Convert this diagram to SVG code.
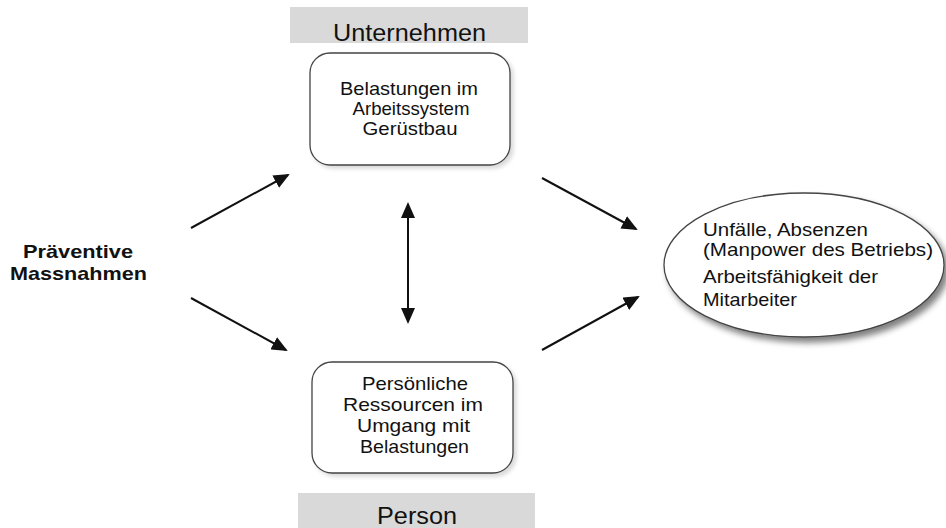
<svg xmlns="http://www.w3.org/2000/svg" width="946" height="528" viewBox="0 0 946 528">
<style>
text{font-family:"Liberation Sans",Arial,sans-serif;fill:#111}
.box{fill:#fff;stroke:#444;stroke-width:1.3}
.banner{fill:#d9d9d9}
.t{font-size:19px;text-anchor:middle}
.tl{font-size:19px}
.hdr{font-size:23px;text-anchor:middle}
.bold{font-size:19px;font-weight:bold;text-anchor:middle}
.arr{stroke:#111;stroke-width:2;fill:none}
</style>
<defs>
<marker id="ah" markerUnits="userSpaceOnUse" markerWidth="16" markerHeight="14" refX="14" refY="7" orient="auto-start-reverse">
<path d="M0,0 L16,7 L0,14 Z" fill="#111"/>
</marker>
<filter id="sh" x="-10%" y="-10%" width="130%" height="140%">
<feGaussianBlur in="SourceAlpha" stdDeviation="3"/>
<feOffset dx="4" dy="5"/>
<feComponentTransfer><feFuncA type="linear" slope="0.5"/></feComponentTransfer>
<feMerge><feMergeNode/><feMergeNode in="SourceGraphic"/></feMerge>
</filter>
<filter id="sh2" x="-10%" y="-10%" width="130%" height="140%">
<feGaussianBlur in="SourceAlpha" stdDeviation="2"/>
<feOffset dx="3" dy="3"/>
<feComponentTransfer><feFuncA type="linear" slope="0.15"/></feComponentTransfer>
<feMerge><feMergeNode/><feMergeNode in="SourceGraphic"/></feMerge>
</filter>
</defs>

<g id="banner-unternehmen">
<rect class="banner" x="290" y="7" width="238" height="36"/>
<text class="hdr" x="409.5" y="41" textLength="153" lengthAdjust="spacingAndGlyphs">Unternehmen</text>
</g>

<g id="banner-person">
<rect class="banner" x="298" y="493" width="237" height="35"/>
<text class="hdr" x="417" y="524" textLength="80" lengthAdjust="spacingAndGlyphs">Person</text>
</g>

<g id="node-belastungen">
<rect class="box" x="310" y="53" width="200" height="112" rx="20" filter="url(#sh2)"/>
<text class="t" x="409" y="95" textLength="138" lengthAdjust="spacingAndGlyphs">Belastungen im</text>
<text class="t" x="411" y="115" textLength="117" lengthAdjust="spacingAndGlyphs">Arbeitssystem</text>
<text class="t" x="410" y="135" textLength="95" lengthAdjust="spacingAndGlyphs">Gerüstbau</text>
</g>

<g id="node-ressourcen">
<rect class="box" x="312" y="362" width="201" height="111" rx="20" filter="url(#sh2)"/>
<text class="t" x="415" y="390" textLength="106" lengthAdjust="spacingAndGlyphs">Persönliche</text>
<text class="t" x="413" y="411" textLength="140" lengthAdjust="spacingAndGlyphs">Ressourcen im</text>
<text class="t" x="413.5" y="432" textLength="113" lengthAdjust="spacingAndGlyphs">Umgang mit</text>
<text class="t" x="414.5" y="453" textLength="109" lengthAdjust="spacingAndGlyphs">Belastungen</text>
</g>

<g id="node-praeventive">
<text class="bold" x="78" y="258" textLength="110" lengthAdjust="spacingAndGlyphs">Präventive</text>
<text class="bold" x="78.5" y="280" textLength="137" lengthAdjust="spacingAndGlyphs">Massnahmen</text>
</g>

<g id="node-ergebnis">
<ellipse class="box" cx="804" cy="265" rx="140" ry="72" filter="url(#sh)"/>
<text class="tl" x="703" y="236" textLength="165" lengthAdjust="spacingAndGlyphs">Unfälle, Absenzen</text>
<text class="tl" x="703" y="256" textLength="230" lengthAdjust="spacingAndGlyphs">(Manpower des Betriebs)</text>
<text class="tl" x="703" y="283" textLength="175" lengthAdjust="spacingAndGlyphs">Arbeitsfähigkeit der</text>
<text class="tl" x="703" y="306" textLength="94" lengthAdjust="spacingAndGlyphs">Mitarbeiter</text>
</g>

<g id="connectors">
<line class="arr" x1="191" y1="228" x2="288" y2="175" marker-end="url(#ah)"/>
<line class="arr" x1="191" y1="298" x2="286" y2="350" marker-end="url(#ah)"/>
<line class="arr" x1="408" y1="204" x2="408" y2="322" marker-start="url(#ah)" marker-end="url(#ah)"/>
<line class="arr" x1="542" y1="178" x2="636" y2="229" marker-end="url(#ah)"/>
<line class="arr" x1="542" y1="350" x2="638" y2="297" marker-end="url(#ah)"/>
</g>
</svg>
